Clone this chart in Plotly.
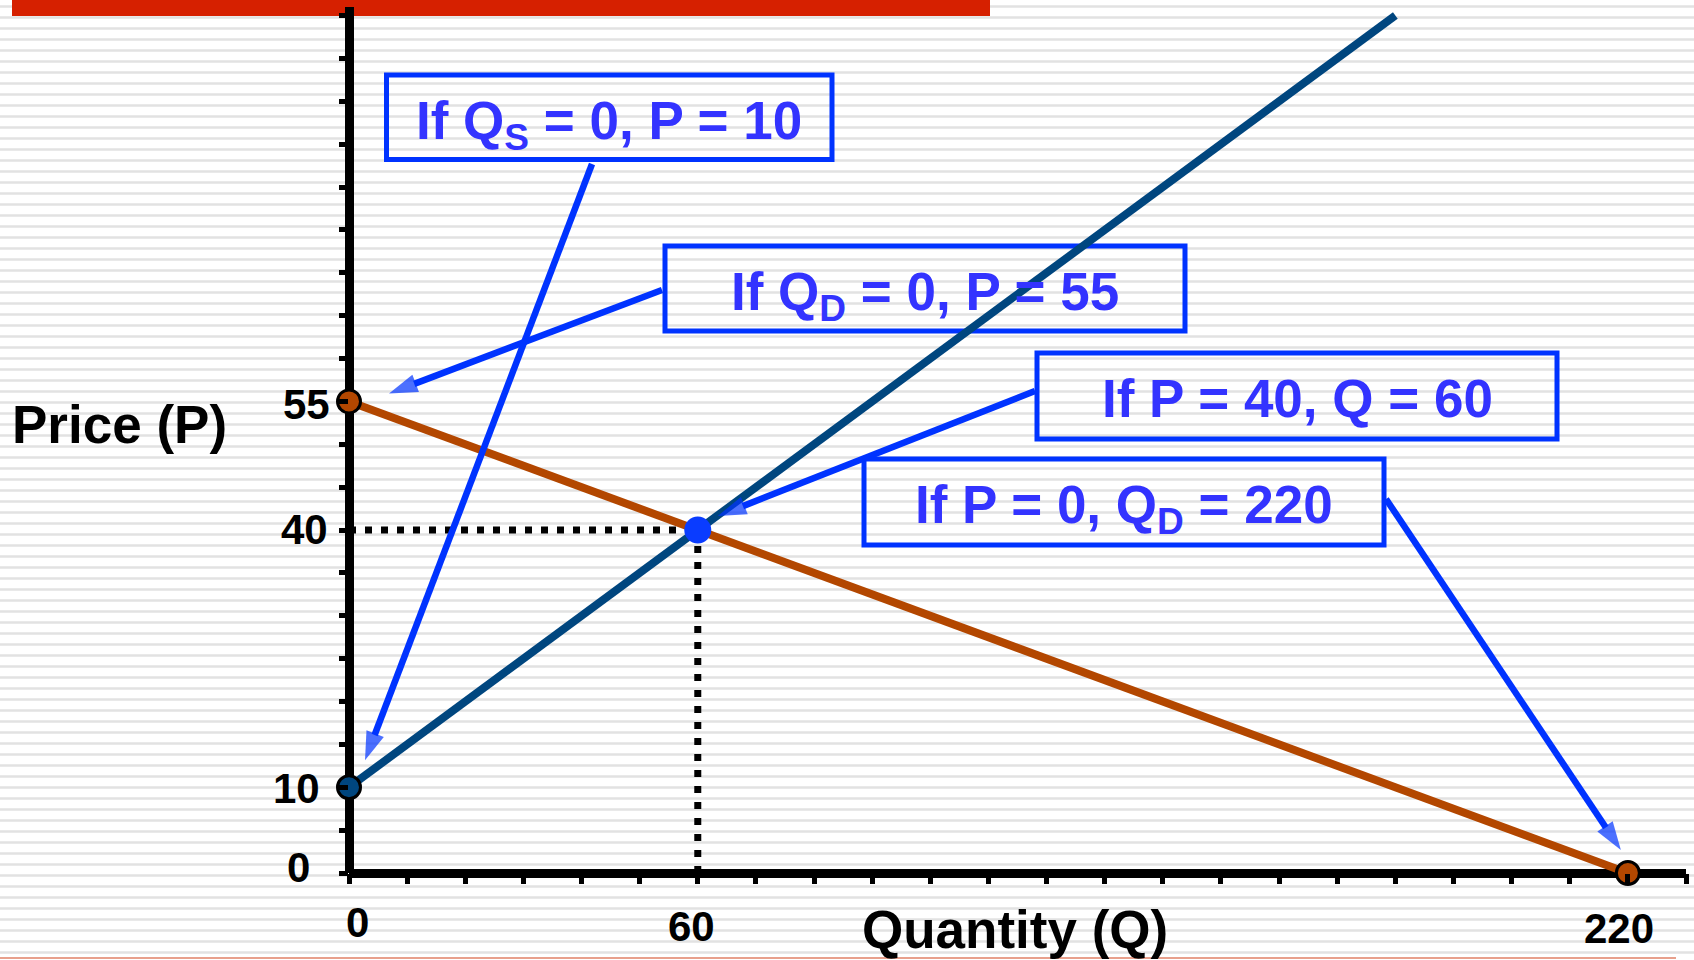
import plotly.graph_objects as go

# ---------------- data ----------------
supply_q = [0, 180]
supply_p = [10, 100]
demand_q = [0, 220]
demand_p = [55, 0]
supply_int_q = [0]
supply_int_p = [10]
demand_end_q = [0, 220]
demand_end_p = [55, 0]
eq_q = [60]
eq_p = [40]

x_tick_vals = [0, 10, 20, 30, 40, 50, 60, 70, 80, 90, 100, 110, 120,
               130, 140, 150, 160, 170, 180, 190, 200, 210, 220, 230]
y_tick_vals = [0, 5, 10, 15, 20, 25, 30, 35, 40, 45, 50, 55, 60, 65,
               70, 75, 80, 85, 90, 95, 100]
x_label_vals = [0, 60, 220]
y_label_vals = [0, 10, 40, 55]

box_texts = [
    "If Q<sub>S</sub> = 0, P = 10",
    "If Q<sub>D</sub> = 0, P = 55",
    "If P = 40, Q = 60",
    "If P = 0, Q<sub>D</sub> = 220",
]
arrow_targets_q = [0, 0, 60, 220]
arrow_targets_p = [10, 55, 40, 0]

x_title = "Quantity (Q)"
y_title = "Price (P)"

# ---------------- layout geometry (pixels) ----------------
W, H = 1694, 960
L, R, T, B = 349, 8, 7, 87
PW = W - L - R
PH = H - T - B
XMAX, YMAX = 230, 101


def xp(px):
    return (px - L) / PW


def yp(py):
    return (H - B - py) / PH


def dq(px):
    return (px - L) / PW * XMAX


def dp(py):
    return (H - B - py) / PH * YMAX


FONT = "Liberation Sans, Arial, sans-serif"
BLUE_BOX = "#0033ff"
BLUE_TXT = "#3333ff"
SUPPLY_C = "#00467f"
DEMAND_C = "#b34700"

fig = go.Figure()

# dotted guides
fig.add_trace(go.Scatter(x=[0, eq_q[0]], y=[eq_p[0], eq_p[0]], mode="lines",
                         line=dict(color="black", width=7, dash="7px,9px"),
                         hoverinfo="skip", showlegend=False))
fig.add_trace(go.Scatter(x=[eq_q[0], eq_q[0]], y=[eq_p[0], 0], mode="lines",
                         line=dict(color="black", width=7, dash="7px,9px"),
                         hoverinfo="skip", showlegend=False))
# demand and supply
fig.add_trace(go.Scatter(x=demand_q, y=demand_p, mode="lines",
                         line=dict(color=DEMAND_C, width=8),
                         showlegend=False, cliponaxis=False))
fig.add_trace(go.Scatter(x=supply_q, y=supply_p, mode="lines",
                         line=dict(color=SUPPLY_C, width=8),
                         showlegend=False, cliponaxis=False))

# arrows (tails at box edges, heads near the points)
arrow_tails_px = [(592, 164), (662, 290), (1035, 391), (1386, 499)]
arrow_head_off_px = [(16, -27), (40, -8), (20, -14), (-7, -23)]
for (tx, ty), (ox, oy), q, p in zip(arrow_tails_px, arrow_head_off_px,
                                     arrow_targets_q, arrow_targets_p):
    hx = q * PW / XMAX + L + ox
    hy = (H - B) - p * PH / YMAX + oy
    fig.add_trace(go.Scatter(
        x=[dq(tx), dq(hx)], y=[dp(ty), dp(hy)], mode="lines+markers",
        line=dict(color=BLUE_BOX, width=6.5),
        marker=dict(symbol="arrow", angleref="previous", size=[0, 30],
                    color=BLUE_BOX, line=dict(width=0)),
        hoverinfo="skip", showlegend=False, cliponaxis=False))

# points
fig.add_trace(go.Scatter(x=demand_end_q, y=demand_end_p, mode="markers",
                         marker=dict(size=23, color=DEMAND_C,
                                     line=dict(color="black", width=3)),
                         showlegend=False, cliponaxis=False))
fig.add_trace(go.Scatter(x=supply_int_q, y=supply_int_p, mode="markers",
                         marker=dict(size=23, color=SUPPLY_C,
                                     line=dict(color="black", width=3)),
                         showlegend=False, cliponaxis=False))
fig.add_trace(go.Scatter(x=eq_q, y=eq_p, mode="markers",
                         marker=dict(size=27, color="#0a3cff",
                                     line=dict(width=0)),
                         showlegend=False, cliponaxis=False))

shapes = []
# striped background
c = 6.5
while c < H + 2:
    shapes.append(dict(type="rect", xref="paper", yref="paper",
                       x0=xp(0), x1=xp(W), y0=yp(c - 1.2), y1=yp(c + 1.2),
                       fillcolor="#e2e2e2", line=dict(width=0), layer="below"))
    c += 11
# red bar on top
shapes.append(dict(type="rect", xref="paper", yref="paper",
                   x0=xp(12), x1=xp(990), y0=yp(0), y1=yp(16),
                   fillcolor="#d62000", line=dict(width=0), layer="below"))
# thin bottom rule
shapes.append(dict(type="rect", xref="paper", yref="paper",
                   x0=xp(0), x1=xp(1676), y0=yp(957), y1=yp(959),
                   fillcolor="#e8a08c", line=dict(width=0), layer="below"))

# callout boxes (centre-line pixel rects)
boxes_px = [
    (386.5, 75, 832, 159.5),
    (665, 246, 1185, 331),
    (1037, 353, 1557, 439),
    (864, 459, 1384, 545),
]
for (x0, y0, x1, y1) in boxes_px:
    shapes.append(dict(type="rect", xref="paper", yref="paper",
                       x0=xp(x0), x1=xp(x1), y0=yp(y1), y1=yp(y0),
                       fillcolor="rgba(0,0,0,0)",
                       line=dict(color=BLUE_BOX, width=5), layer="below"))

annotations = []
# box texts
for (x0, y0, x1, y1), t in zip(boxes_px, box_texts):
    cy = (y0 + y1) / 2 + 3 + (4 if "<sub>" in t else 0)
    annotations.append(dict(xref="paper", yref="paper", x=xp((x0 + x1) / 2),
                            y=yp(cy), text=t, showarrow=False,
                            xanchor="center", yanchor="middle",
                            font=dict(family=FONT, size=53, color=BLUE_TXT,
                                      weight="bold")))

# tick labels
y_label_pos = {0: (312, 867), 10: (322, 788), 40: (330, 529), 55: (332, 405)}
for v in y_label_vals:
    rx, cy = y_label_pos[v]
    annotations.append(dict(xref="paper", yref="paper", x=xp(rx), y=yp(cy),
                            text=str(v), showarrow=False, xanchor="right",
                            yanchor="middle",
                            font=dict(family=FONT, size=42, color="black",
                                      weight="bold")))
x_label_pos = {0: (357, 922), 60: (691, 926), 220: (1619, 928)}
for v in x_label_vals:
    cx, cy = x_label_pos[v]
    annotations.append(dict(xref="paper", yref="paper", x=xp(cx), y=yp(cy),
                            text=str(v), showarrow=False, xanchor="center",
                            yanchor="middle",
                            font=dict(family=FONT, size=42, color="black",
                                      weight="bold")))

# axis titles
annotations.append(dict(xref="paper", yref="paper", x=xp(10), y=yp(424),
                        text=y_title, showarrow=False, xanchor="left",
                        yanchor="middle",
                        font=dict(family=FONT, size=53, color="black",
                                  weight="bold")))
annotations.append(dict(xref="paper", yref="paper", x=xp(860), y=yp(930),
                        text=x_title, showarrow=False, xanchor="left",
                        yanchor="middle",
                        font=dict(family=FONT, size=53, color="black",
                                  weight="bold")))

fig.update_layout(
    width=W, height=H, autosize=False,
    margin=dict(l=L, r=R, t=T, b=B, pad=0),
    paper_bgcolor="white", plot_bgcolor="rgba(0,0,0,0)",
    shapes=shapes, annotations=annotations, showlegend=False,
    xaxis=dict(range=[0, XMAX], showgrid=False, showline=False,
               zeroline=True, zerolinecolor="black", zerolinewidth=9,
               ticks="outside", tickvals=x_tick_vals, ticklen=10,
               tickwidth=5, tickcolor="black", showticklabels=False,
               fixedrange=True),
    yaxis=dict(range=[0, YMAX], showgrid=False, showline=False,
               zeroline=True, zerolinecolor="black", zerolinewidth=9,
               ticks="outside", tickvals=y_tick_vals, ticklen=9,
               tickwidth=5, tickcolor="black", showticklabels=False,
               fixedrange=True),
)

fig.write_html("out.html")
